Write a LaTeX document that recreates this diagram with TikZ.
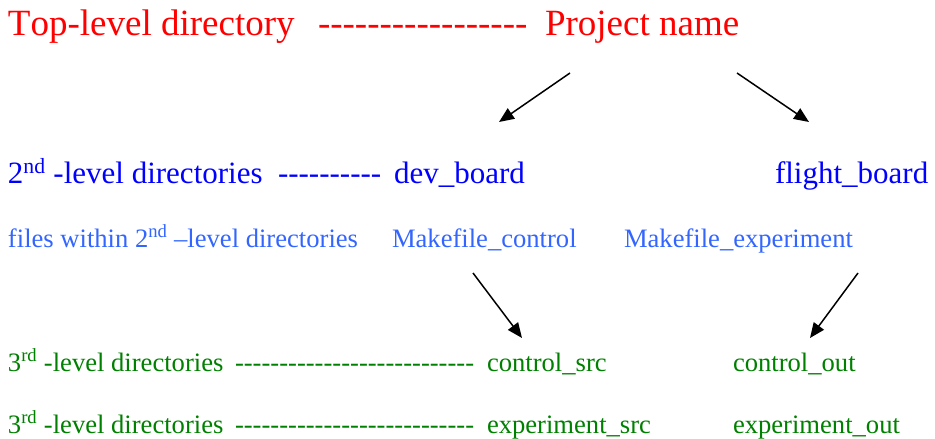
\documentclass[tikz,border=0pt]{standalone}
\usepackage{fontspec}
\setmainfont{Liberation Serif}[Kerning=Off]
\usetikzlibrary{arrows.meta}
\definecolor{tred}{RGB}{255,0,0}
\definecolor{tblue}{RGB}{0,0,255}
\definecolor{lblue}{RGB}{51,102,255}
\definecolor{tgreen}{RGB}{0,128,0}
\newcommand\dashes[1]{\foreach \i in {1,...,#1}{-\kern0pt}}
\begin{document}
\begin{tikzpicture}[x=1pt,y=-1pt,
  every node/.style={inner sep=0pt,outer sep=0pt,anchor=base west},
  lvlone/.style={text=tred,font=\fontsize{37}{40}\selectfont},
  lvltwo/.style={text=tblue,font=\fontsize{31}{34}\selectfont},
  lvlfile/.style={text=lblue,font=\fontsize{26.6}{29}\selectfont},
  lvlthree/.style={text=tgreen,font=\fontsize{26.6}{29}\selectfont},
  arr/.style={line width=1.5pt,-{Triangle[length=15pt,width=12.5pt]}}]
\useasboundingbox (0,0) rectangle (935,439);
% row 1
\node[lvlone] (toplbl) at (8,35) {Top-level directory};
\node[lvlone] (topdash) at (318,35) {\dashes{17}};
\node[lvlone] (proj) at (545,35) {Project name};
% row 2
\node[lvltwo] (seclbl) at (8,183) {2\textsuperscript{nd} -level directories};
\node[lvltwo] (secdash) at (278,183) {\dashes{10}};
\node[lvltwo] (dev) at (394,183) {dev\_board};
\node[lvltwo] (flight) at (775,183) {flight\_board};
% row 3
\node[lvlfile] (filelbl) at (8,247) {files within 2\textsuperscript{nd} –level directories};
\node[lvlfile] (mkc) at (392,247) {Makefile\_control};
\node[lvlfile] (mke) at (624,247) {Makefile\_experiment};
% row 4
\node[lvlthree] (thrlbl) at (8,371) {3\textsuperscript{rd} -level directories};
\node[lvlthree] (thrdash) at (235,371) {\dashes{27}};
\node[lvlthree] (csrc) at (487,371) {control\_src};
\node[lvlthree] (cout) at (733,371) {control\_out};
% row 5
\node[lvlthree] (thrlblb) at (8,433) {3\textsuperscript{rd} -level directories};
\node[lvlthree] (thrdashb) at (235,433) {\dashes{27}};
\node[lvlthree] (esrc) at (487,433) {experiment\_src};
\node[lvlthree] (eout) at (733,433) {experiment\_out};
% arrows
\coordinate (a1s) at (570,73); \coordinate (a1e) at (499,122);
\coordinate (a2s) at (737,73); \coordinate (a2e) at (809,122);
\coordinate (a3s) at (473,273); \coordinate (a3e) at (522,338);
\coordinate (a4s) at (858,273); \coordinate (a4e) at (810,338);
\draw[arr] (a1s) -- (a1e);
\draw[arr] (a2s) -- (a2e);
\draw[arr] (a3s) -- (a3e);
\draw[arr] (a4s) -- (a4e);
\end{tikzpicture}
\end{document}
